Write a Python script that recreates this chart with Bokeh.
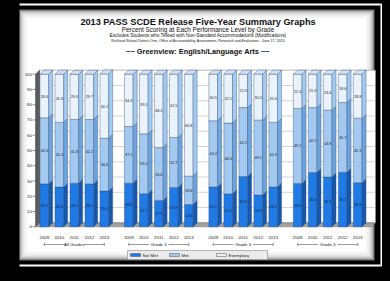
import math
from bokeh.plotting import figure
from bokeh.models import FactorRange, Range1d, ColumnDataSource, BoxAnnotation
from bokeh.core.properties import value
from bokeh.embed import file_html
from bokeh.resources import INLINE

# ---------------- data ----------------
groups = ["All Grades", "Grade 3", "Grade 4", "Grade 5"]
years = ["2009", "2010", "2011", "2012", "2013"]
levels = ["Not Met", "Met", "Exemplary"]
not_met = [28.1, 26.0, 28.5, 28.1, 23.4,
           28.6, 21.7, 17.3, 25.8, 14.6,
           26.1, 21.6, 32.9, 20.8, 26.1,
           28.4, 35.6, 32.6, 35.7, 28.9]
met = [43.3, 42.4, 41.8, 42.2, 34.6,
       37.1, 39.2, 34.6, 32.7, 18.6,
       43.4, 46.4, 45.2, 49.1, 42.3,
       49.2, 42.5, 43.8, 45.7, 42.3]
exemplary = [28.6, 31.6, 29.6, 29.7, 42.2,
             34.3, 39.1, 48.1, 41.5, 66.8,
             30.5, 32.1, 21.9, 30.2, 31.6,
             22.4, 21.9, 23.6, 18.6, 28.8]
y_ticks = [0, 10, 20, 30, 40, 50, 60, 70, 80, 90, 100]
title_main = "2013 PASS SCDE Release Five-Year Summary Graphs"
subtitle = "Percent Scoring at Each Performance Level by Grade"
note1 = "Excludes Students who Tested with Non-Standard Accommodations (Modifications)"
note2 = "Richland School District One, Office of Accountability, Assessment, Research and Evaluation - June 17, 2013"
school = "~~ Greenview: English/Language Arts ~~"

# ---------------- style / geometry ----------------
FONT = value("Liberation Sans")
W, H = 382, 273
LEFT = 19
REF_X0 = 27                   # frame left edge in reference pixels
REF_Y0, REF_Y1 = 8, 281       # frame top / bottom in reference pixels
CAT_PX = 15.0
GROUP_PAD = 0.63
ZERO_Y = 234.3
PCT_PX = 1.526
HW = 0.29
DX = 4.0 / CAT_PX
DY = 4.0 / PCT_PX
FRONT = ["#1f7ae6", "#a4c9f0", "#eaf3fc"]
SIDE = ["#1558ad", "#6ea4dd", "#a3cbf1"]
TOP = "#cfe2f6"
EDGE = "#2f4d73"
NAN = float("nan")

factors = [(g, y) for g in groups for y in years]
n_syn = len(groups) * len(years) + (len(groups) - 1) * GROUP_PAD
pad = ((W - LEFT) / CAT_PX - n_syn) / 2
x_range = FactorRange(factors=factors, factor_padding=0, group_padding=GROUP_PAD,
                      range_padding=2 * pad / n_syn, range_padding_units="percent")
y_range = Range1d(-(REF_Y1 - ZERO_Y) / PCT_PX, (ZERO_Y - REF_Y0) / PCT_PX)


def X(ref):
    """reference-pixel x -> synthetic categorical coordinate (for decorations)"""
    return (ref - REF_X0) / CAT_PX - pad


p = figure(width=W, height=H, x_range=x_range, y_range=y_range,
           x_axis_location=None, y_axis_location=None,
           output_backend="svg", toolbar_location=None,
           min_border_left=LEFT, min_border_right=0, min_border_top=0, min_border_bottom=0)
p.grid.visible = False
p.outline_line_color = None
p.border_fill_color = "black"
p.background_fill_color = "black"
p.extra_y_ranges = {"px": Range1d(REF_Y1, REF_Y0)}
PX = dict(y_range_name="px")


def box(l, r, t, b, color, alpha=1.0):
    p.quad(left=[X(l)], right=[X(r)], top=[t], bottom=[b], fill_color=color,
           fill_alpha=alpha, line_color=None, **PX)


# ---------------- frame / panel ----------------
box(10, 388, 11, 13, "white")
box(388, 391, 11, 274, "white")
box(10, 388, 272, 274, "white")
p.add_layout(BoxAnnotation(left=X(10), right=X(22), top=11, bottom=274, fill_color="white",
                           fill_alpha=1, line_color=None, **PX))
p.add_layout(BoxAnnotation(left=X(26), right=X(27), top=17, bottom=268, fill_color="#707070",
                           fill_alpha=1, line_color=None, **PX))
box(26, 382, 17, 268, "#707070")
for i in range(1, 9):
    box(26 + i, 382 - i, 17 + i, 268 - i, "white", 0.33)
box(35, 373, 26, 259, "white")

# ---------------- titles ----------------
def title_text(txt, y, size, bold=False):
    p.text(x=[X(205.5)], y=[y], text=[txt], text_font=FONT, text_font_size=size,
           text_font_style="bold" if bold else "normal", text_color="#111111",
           text_align="center", text_baseline="middle", **PX)


title_text(title_main, 29.3, "9.2px", True)
title_text(subtitle, 37.3, "6.4px")
title_text(note1, 42.8, "4.8px")
title_text(note2, 48.3, "3.6px")
title_text(school, 59.3, "7.4px", True)

# ---------------- 3D chart frame ----------------
p.quad(left=[X(47)], right=[X(383)], bottom=[DY], top=[100 + DY], fill_color="white",
       line_color="#8c8c8c", line_width=0.6)
p.segment(x0=[X(47)] * 9, x1=[X(383)] * 9, y0=[v + DY for v in y_ticks[1:-1]],
          y1=[v + DY for v in y_ticks[1:-1]], line_color="#b5b5b5", line_width=0.6)
p.patch(x=[X(43), X(379), X(383), X(47)], y=[0, 0, DY, DY], fill_color="#a0a0a0",
        line_color="#707070", line_width=0.5)
p.patch(x=[X(43), X(47), X(47), X(43)], y=[0, DY, 100 + DY, 100], fill_color="#5c5c5c",
        line_color="#444444", line_width=0.5)
p.segment(x0=[X(40)] * len(y_ticks), x1=[X(43)] * len(y_ticks), y0=y_ticks, y1=y_ticks,
          line_color="#444444", line_width=0.6)
p.text(x=[X(39.5)] * len(y_ticks), y=y_ticks, text=[str(v) for v in y_ticks],
       text_font=FONT, text_font_size="4.4px", text_color="#222222",
       text_align="right", text_baseline="middle")

# ---------------- bars ----------------
series = [not_met, met, exemplary]
bottoms = [0.0] * len(factors)
for k, vals in enumerate(series):
    tops = [b + v for b, v in zip(bottoms, vals)]
    src = ColumnDataSource(dict(x=factors, bottom=bottoms, top=tops,
                                mid=[(b + t) / 2 for b, t in zip(bottoms, tops)],
                                label=["%.1f" % v for v in vals]))
    p.vbar(x="x", bottom="bottom", top="top", width=2 * HW, source=src,
           fill_color=FRONT[k], line_color=EDGE, line_width=0.4)
    xs, ys = [], []
    for f, b, t in zip(factors, bottoms, tops):
        xs += [(f[0], f[1], HW), (f[0], f[1], HW + DX), (f[0], f[1], HW + DX), (f[0], f[1], HW), NAN]
        ys += [b, b + DY, t + DY, t, NAN]
    p.patch(x=xs, y=ys, fill_color=SIDE[k], line_color=EDGE, line_width=0.4)
    p.text(x="x", y="mid", text="label", source=src, text_font=FONT,
           text_font_size="3.8px", text_color="#1a1a1a",
           text_align="center", text_baseline="middle")
    bottoms = tops

txs, tys = [], []
for f, t in zip(factors, bottoms):
    txs += [(f[0], f[1], -HW), (f[0], f[1], HW), (f[0], f[1], HW + DX), (f[0], f[1], -HW + DX), NAN]
    tys += [t, t, t + DY, t + DY, NAN]
p.patch(x=txs, y=tys, fill_color=TOP, line_color=EDGE, line_width=0.4)

# ---------------- category labels ----------------
YEAR_Y = (ZERO_Y - 245.0) / PCT_PX
GROUP_Y = (ZERO_Y - 252.0) / PCT_PX
p.text(x=factors, y=[YEAR_Y] * len(factors), text=[f[1] for f in factors],
       text_font=FONT, text_font_size="4.4px", text_color="#222222",
       text_align="center", text_baseline="middle")
mid_year = years[len(years) // 2]
p.text(x=[(g, mid_year) for g in groups], y=[GROUP_Y] * len(groups), text=groups,
       text_font=FONT, text_font_size="4.4px", text_color="#222222",
       text_align="center", text_baseline="middle")
GAP = 0.65
sx0, sx1, sy0, sy1 = [], [], [], []
for g in groups:
    sx0 += [(g, years[0]), (g, mid_year, GAP), (g, years[0]), (g, years[-1])]
    sx1 += [(g, mid_year, -GAP), (g, years[-1]), (g, years[0]), (g, years[-1])]
    sy0 += [GROUP_Y, GROUP_Y, GROUP_Y - 1.0, GROUP_Y - 1.0]
    sy1 += [GROUP_Y, GROUP_Y, GROUP_Y + 1.0, GROUP_Y + 1.0]
p.segment(x0=sx0, x1=sx1, y0=sy0, y1=sy1, line_color="#555555", line_width=0.6)

# ---------------- legend ----------------
sw_left = [138, 177, 224]
p.quad(left=[X(135)], right=[X(275)], top=[258], bottom=[267], fill_color="#ececec",
       line_color="#8a8a8a", line_width=0.6, **PX)
p.quad(left=[X(s) for s in sw_left], right=[X(s + 10) for s in sw_left], top=[261] * 3,
       bottom=[264] * 3, fill_color=FRONT, line_color="#555555", line_width=0.5, **PX)
p.text(x=[X(s + 12) for s in sw_left], y=[262.5] * 3, text=levels, text_font=FONT,
       text_font_size="4.4px", text_color="#222222", text_align="left",
       text_baseline="middle", **PX)

html = file_html(p, INLINE)
html = html.replace("</head>", "<style>html,body{background-color:#000000 !important;overflow:hidden;}</style></head>", 1)
open("out.html", "w").write(html)
